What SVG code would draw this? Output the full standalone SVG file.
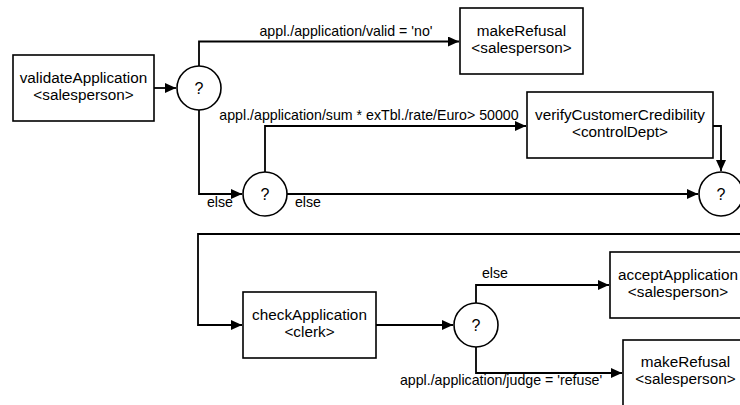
<svg xmlns="http://www.w3.org/2000/svg" width="740" height="405" viewBox="0 0 740 405">
<style>
.box{fill:#fff;stroke:#000;stroke-width:1.6}
.dec{fill:#fff;stroke:#000;stroke-width:1.6}
.con{fill:none;stroke:#000;stroke-width:1.8}
.t{font-family:"Liberation Sans",Arial,sans-serif;font-size:15.3px;fill:#000;text-anchor:middle}
.q{font-family:"Liberation Sans",Arial,sans-serif;font-size:16px;fill:#000;text-anchor:middle}
.lbl{font-family:"Liberation Sans",Arial,sans-serif;font-size:14.2px;fill:#000;text-anchor:middle}
</style>
<defs>
<marker id="arr" markerUnits="userSpaceOnUse" markerWidth="12" markerHeight="10" refX="11" refY="5" orient="auto">
<path d="M0,0 L11,5 L0,10 Z" fill="#000"/>
</marker>
</defs>
<rect width="740" height="405" fill="#fff"/>
<g id="connectors">
<path class="con" d="M154,88 H176" marker-end="url(#arr)"/>
<path class="con" d="M199,66 V41.5 H459" marker-end="url(#arr)"/>
<path class="con" d="M199,110 V194 H242" marker-end="url(#arr)"/>
<path class="con" d="M265,172 V126 H526" marker-end="url(#arr)"/>
<path class="con" d="M287,194 H698" marker-end="url(#arr)"/>
<path class="con" d="M713,126 H721 V171" marker-end="url(#arr)"/>
<path class="con" d="M742,234 H198 V325 H242" marker-end="url(#arr)"/>
<path class="con" d="M376,325 H453" marker-end="url(#arr)"/>
<path class="con" d="M476,303 V285 H609" marker-end="url(#arr)"/>
<path class="con" d="M476,347 V373 H622" marker-end="url(#arr)"/>
<text class="lbl" x="346" y="36">appl./application/valid = 'no'</text>
<text class="lbl" x="369" y="120">appl./application/sum * exTbl./rate/Euro&gt; 50000</text>
<text class="lbl" x="220" y="207">else</text>
<text class="lbl" x="308" y="207">else</text>
<text class="lbl" x="495" y="278">else</text>
<text class="lbl" x="501" y="385">appl./application/judge = 'refuse'</text>
</g>
<g id="validateApplication">
<rect class="box" x="13" y="55" width="141" height="66"/>
<text class="t" x="83.5" y="83">validateApplication</text>
<text class="t" x="83.5" y="100">&lt;salesperson&gt;</text>
</g>
<g id="decision1">
<circle class="dec" cx="199" cy="88" r="22"/>
<text class="q" x="199" y="94">?</text>
</g>
<g id="makeRefusal1">
<rect class="box" x="460" y="8" width="123" height="66"/>
<text class="t" x="521.5" y="36">makeRefusal</text>
<text class="t" x="521.5" y="53">&lt;salesperson&gt;</text>
</g>
<g id="decision2">
<circle class="dec" cx="265" cy="194" r="22"/>
<text class="q" x="265" y="200">?</text>
</g>
<g id="verifyCustomerCredibility">
<rect class="box" x="527" y="92" width="186" height="66"/>
<text class="t" x="620" y="120">verifyCustomerCredibility</text>
<text class="t" x="620" y="137">&lt;controlDept&gt;</text>
</g>
<g id="decision3">
<circle class="dec" cx="721" cy="194" r="22"/>
<text class="q" x="721" y="200">?</text>
</g>
<g id="checkApplication">
<rect class="box" x="243" y="292" width="133" height="66"/>
<text class="t" x="309.5" y="320">checkApplication</text>
<text class="t" x="309.5" y="337">&lt;clerk&gt;</text>
</g>
<g id="decision4">
<circle class="dec" cx="476" cy="325" r="22"/>
<text class="q" x="476" y="331">?</text>
</g>
<g id="acceptApplication">
<rect class="box" x="610" y="252" width="136" height="66"/>
<text class="t" x="678" y="280">acceptApplication</text>
<text class="t" x="678" y="297">&lt;salesperson&gt;</text>
</g>
<g id="makeRefusal2">
<rect class="box" x="623" y="340" width="125" height="66"/>
<text class="t" x="685.5" y="367">makeRefusal</text>
<text class="t" x="685.5" y="384">&lt;salesperson&gt;</text>
</g>
</svg>
